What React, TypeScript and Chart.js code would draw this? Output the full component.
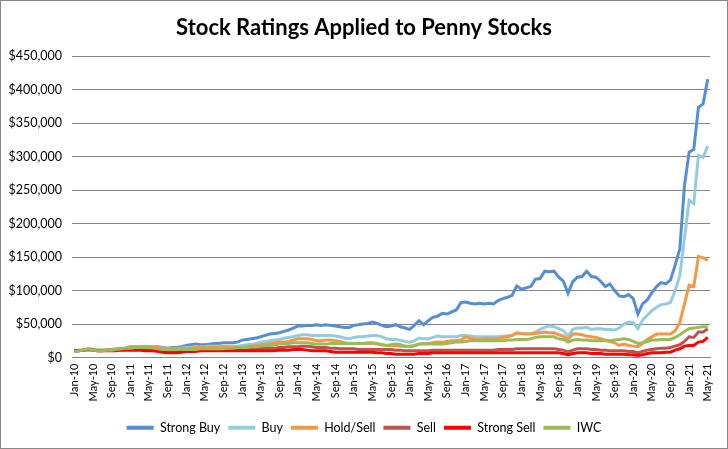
import React, { useEffect, useRef } from "react";
import { Chart, registerables } from "chart.js";

Chart.register(...registerables);

// Values in thousands of dollars, monthly Jan-10 .. May-21
const monthNames = ["Jan", "Feb", "Mar", "Apr", "May", "Jun", "Jul", "Aug", "Sep", "Oct", "Nov", "Dec"];
const years = ["10", "11", "12", "13", "14", "15", "16", "17", "18", "19", "20", "21"];
const lastYearMonths = 5;

const strongBuy = [
  10, 11, 11, 13, 12, 11, 11, 11, 12, 12, 13, 14,
  16, 16, 16, 16, 16, 16, 16, 15, 14, 15, 15, 16,
  18, 19, 20, 19, 19, 20, 21, 21, 22, 22, 22, 23,
  26, 27, 28, 29, 31, 33, 35, 36, 37, 39, 41, 44,
  47, 47, 48, 48, 49, 48, 49, 48, 47, 46, 45, 45,
  48, 49, 50, 51, 53, 51, 48, 46, 47, 49, 46, 44,
  42, 48, 55, 49, 55, 60, 62, 66, 65, 68, 71, 82,
  83, 81, 80, 81, 80, 81, 80, 85, 88, 90, 93, 107,
  102, 104, 106, 117, 118, 129, 128, 129, 120, 114, 96, 113,
  120, 121, 129, 121, 120, 114, 106, 110, 100, 92, 91, 94,
  88, 65, 80, 86, 97, 106, 112, 110, 116, 138, 162, 257,
  307, 311, 374, 379, 416,
];
const buy = [
  10, 11, 11, 13, 11, 11, 10, 11, 12, 12, 13, 14,
  15, 16, 16, 16, 16, 16, 15, 14, 13, 13, 13, 14,
  15, 15, 16, 16, 16, 17, 17, 17, 17, 17, 17, 17,
  18, 19, 20, 21, 23, 24, 25, 26, 27, 29, 30, 31,
  33, 34, 34, 33, 33, 33, 33, 33, 32, 31, 29, 28,
  30, 31, 31, 32, 33, 33, 31, 28, 27, 27, 26, 24,
  23, 25, 29, 28, 28, 30, 32, 31, 31, 31, 31, 33,
  33, 32, 31, 31, 31, 31, 31, 31, 32, 32, 33, 36,
  36, 35, 36, 38, 42, 45, 47, 46, 43, 40, 32, 42,
  44, 44, 45, 42, 43, 43, 42, 42, 41, 44, 50, 53,
  52, 43, 56, 63, 70, 75, 79, 80, 82, 100, 122, 178,
  235, 230, 302, 299, 316,
];
const holdSell = [
  10, 11, 11, 13, 12, 11, 11, 12, 12, 13, 13, 14,
  15, 16, 16, 16, 16, 16, 15, 14, 14, 14, 14, 14,
  14, 14, 15, 15, 15, 15, 15, 15, 16, 16, 15, 15,
  15, 16, 17, 18, 19, 20, 21, 22, 23, 23, 24, 26,
  28, 28, 28, 27, 25, 25, 26, 26, 25, 24, 22, 21,
  21, 21, 21, 21, 21, 20, 19, 18, 18, 18, 17, 17,
  16, 17, 20, 21, 21, 22, 23, 23, 24, 25, 25, 26,
  31, 29, 27, 27, 28, 28, 28, 28, 30, 31, 33, 37,
  36, 35, 35, 36, 37, 38, 37, 37, 34, 32, 27, 35,
  35, 34, 32, 31, 30, 28, 26, 24, 22, 18, 20, 18,
  17, 16, 21, 27, 31, 35, 35, 35, 35, 40, 52, 80,
  108, 106, 151, 149, 145,
];
const sell = [
  10, 10, 11, 12, 11, 10, 10, 11, 11, 11, 12, 12,
  13, 13, 13, 13, 13, 12, 12, 11, 10, 10, 10, 11,
  11, 11, 12, 12, 12, 12, 12, 12, 12, 13, 13, 13,
  13, 13, 13, 13, 14, 14, 14, 14, 15, 15, 16, 16,
  16, 17, 17, 16, 15, 15, 15, 14, 14, 13, 13, 13,
  13, 12, 12, 12, 12, 12, 12, 12, 12, 11, 11, 10,
  10, 10, 10, 10, 10, 11, 11, 11, 11, 11, 11, 11,
  11, 11, 11, 11, 11, 11, 11, 12, 12, 12, 12, 13,
  13, 13, 13, 13, 13, 13, 13, 13, 12, 11, 8, 11,
  13, 13, 13, 12, 12, 11, 11, 10, 10, 10, 10, 9,
  9, 7, 9, 11, 12, 13, 14, 14, 15, 17, 19, 24,
  31, 30, 38, 38, 43,
];
const strongSell = [
  10, 10, 11, 12, 11, 10, 10, 10, 10, 10, 11, 11,
  11, 11, 11, 10, 10, 10, 9, 8, 7, 7, 7, 8,
  9, 9, 9, 10, 10, 10, 10, 10, 10, 10, 10, 10,
  10, 10, 10, 10, 10, 10, 10, 10, 11, 11, 11, 12,
  12, 12, 11, 10, 10, 10, 10, 9, 8, 8, 8, 8,
  8, 8, 8, 8, 8, 7, 7, 6, 6, 5, 5, 5,
  5, 5, 6, 6, 6, 7, 7, 7, 7, 7, 7, 7,
  7, 7, 7, 7, 7, 7, 7, 7, 7, 7, 7, 7,
  7, 7, 7, 7, 7, 7, 7, 7, 7, 6, 4, 6,
  7, 7, 7, 6, 6, 6, 5, 5, 5, 5, 5, 4,
  4, 3, 4, 6, 7, 7, 7, 8, 8, 11, 13, 17,
  18, 18, 23, 24, 30,
];
const iwc = [
  9, 10, 11, 13, 11, 10, 10, 11, 11, 12, 13, 14,
  14, 15, 15, 15, 15, 14, 13, 12, 12, 12, 12, 12,
  12, 12, 12, 13, 13, 13, 13, 13, 13, 14, 14, 15,
  15, 15, 16, 16, 17, 18, 18, 19, 20, 20, 21, 22,
  22, 22, 22, 21, 20, 20, 20, 21, 21, 21, 21, 21,
  21, 21, 21, 22, 22, 21, 19, 18, 19, 20, 19, 17,
  17, 18, 20, 20, 20, 20, 20, 20, 21, 22, 23, 23,
  24, 25, 25, 25, 25, 25, 25, 25, 25, 26, 26, 27,
  27, 27, 28, 30, 31, 31, 31, 31, 28, 27, 23, 26,
  27, 26, 26, 25, 25, 25, 25, 25, 26, 27, 28, 27,
  24, 21, 22, 24, 26, 26, 27, 27, 27, 30, 34, 39,
  43, 44, 45, 46, 46,
];

const seriesNames = ["Strong Buy", "Buy", "Hold/Sell", "Sell", "Strong Sell", "IWC"];
const seriesColors = ["#558ED5", "#93CDDD", "#F79646", "#C0504D", "#FF0000", "#9BBB59"];
const seriesData = [strongBuy, buy, holdSell, sell, strongSell, iwc];

const categories: string[] = [];
years.forEach((y, yi) => {
  const n = yi === years.length - 1 ? lastYearMonths : 12;
  for (let m = 0; m < n; m++) categories.push(`${monthNames[m]}-${y}`);
});

const yMax = 450;
const yStep = 50;
const titleText = "Stock Ratings Applied to Penny Stocks";
const FONT = "Lato, 'Open Sans', sans-serif";

// Center title and legend over the whole canvas (not just the padded area)
const centerBlocks = {
  id: "centerBlocks",
  afterLayout(chart: any) {
    const w = chart.width;
    if (chart.titleBlock) {
      chart.titleBlock.left = 0;
      chart.titleBlock.right = w;
      chart.titleBlock.width = w;
    }
    if (chart.legend) {
      const shift = (w - chart.legend.right) / 2;
      chart.legend.left += shift;
      chart.legend.right += shift;
      if (chart.legend.legendHitBoxes) {
        chart.legend.legendHitBoxes.forEach((h: any) => {
          h.left += shift;
        });
      }
    }
  },
};

export default function App() {
  const ref = useRef<HTMLCanvasElement | null>(null);

  useEffect(() => {
    if (!ref.current) return;
    const chart = new Chart(ref.current, {
      type: "line",
      data: {
        labels: categories,
        datasets: seriesNames.map((name, i) => ({
          label: name,
          data: seriesData[i],
          borderColor: seriesColors[i],
          backgroundColor: seriesColors[i],
          borderWidth: 3,
          pointRadius: 0,
          tension: 0,
          order: seriesNames.length - i,
        })),
      },
      plugins: [centerBlocks],
      options: {
        responsive: false,
        animation: false,
        layout: { padding: { left: 0, right: 14, top: 0, bottom: 4 } },
        plugins: {
          title: {
            display: true,
            text: titleText,
            color: "#000",
            font: { family: FONT, size: 22, weight: "bold" },
            padding: { top: 14, bottom: 15 },
          },
          legend: {
            position: "bottom",
            labels: {
              color: "#000",
              font: { family: FONT, size: 12.5 },
              boxWidth: 27,
              boxHeight: 4,
              padding: 8,
              sort: (a: any, b: any) => a.datasetIndex - b.datasetIndex,
              generateLabels: (c: any) => {
                const items = Chart.defaults.plugins.legend.labels.generateLabels(c);
                return items.map((it: any) => ({
                  ...it,
                  fillStyle: seriesColors[it.datasetIndex],
                  lineWidth: 0,
                }));
              },
            },
          },
          tooltip: { enabled: false },
        },
        scales: {
          x: {
            offset: true,
            grid: { display: false, drawTicks: false },
            border: { display: true, color: "#868686", width: 1 },
            ticks: {
              autoSkip: false,
              maxRotation: 90,
              minRotation: 90,
              padding: 6,
              color: "#000",
              font: { family: FONT, size: 11 },
              callback: (_v: any, idx: number) => (idx % 4 === 0 ? categories[idx] : ""),
            },
            afterFit: (s: any) => {
              s.height = 56;
            },
          },
          y: {
            min: 0,
            max: yMax,
            grid: { color: "#868686", lineWidth: 1, drawTicks: false },
            border: { display: false },
            ticks: {
              stepSize: yStep,
              padding: 10,
              color: "#000",
              font: { family: FONT, size: 12.5 },
              callback: (v: any) => (v === 0 ? "$0" : `$${v},000`),
            },
            afterFit: (s: any) => {
              s.width = 71;
            },
          },
        },
      },
    });
    return () => chart.destroy();
  }, []);

  return (
    <div
      style={{
        position: "fixed",
        left: 0,
        top: 0,
        width: 728,
        height: 449,
        boxSizing: "border-box",
        border: "1px solid #888",
        background: "#fff",
      }}
    >
      <canvas ref={ref} width={726} height={447} style={{ display: "block" }} />
    </div>
  );
}
